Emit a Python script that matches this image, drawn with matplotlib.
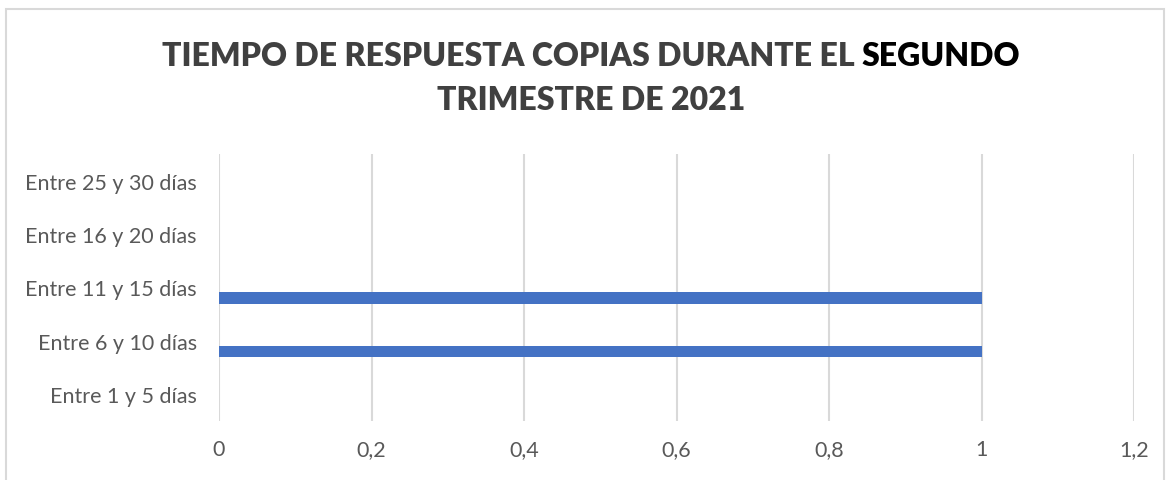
import matplotlib
matplotlib.use("Agg")
import matplotlib.pyplot as plt
import numpy as np

categories = ["Entre 1 y 5 días", "Entre 6 y 10 días", "Entre 11 y 15 días",
              "Entre 16 y 20 días", "Entre 25 y 30 días"]
series1 = [0, 1, 1, 0, 0]
xticks = [0, 0.2, 0.4, 0.6, 0.8, 1.0, 1.2]
xtick_labels = ["0", "0,2", "0,4", "0,6", "0,8", "1", "1,2"]
title_line1_a = "TIEMPO DE RESPUESTA COPIAS DURANTE EL "
title_line1_b = "SEGUNDO"
title_line2 = "TRIMESTRE DE 2021"

FONT = "Lato"
W, H = 1171, 481
fig = plt.figure(figsize=(W / 100, H / 100), dpi=100)
fig.patch.set_facecolor("white")

# chart border
border = plt.Rectangle((6 / W, -0.01), (1164 - 6) / W, (H - 10) / H + 0.01,
                       transform=fig.transFigure, fill=False,
                       edgecolor="#D9D9D9", linewidth=1.5)
fig.add_artist(border)

left, right = 219 / W, 1134 / W
top, bottom = 1 - 155 / H, 1 - 422 / H
ax = fig.add_axes([left, bottom, right - left, top - bottom])

y = np.arange(len(categories))
ax.barh(y - 0.2, series1, height=0.22, color="#4472C4", linewidth=0, zorder=3)

ax.set_xlim(0, 1.2)
ax.set_ylim(-0.5, len(categories) - 0.5)
ax.set_xticks(xticks)
ax.set_xticklabels(xtick_labels)
ax.set_yticks(y)
ax.set_yticklabels(categories)
for s in ax.spines.values():
    s.set_visible(False)
ax.grid(axis="x", color="#D9D9D9", linewidth=1.5, zorder=0)
ax.tick_params(axis="both", length=0, colors="#595959", labelsize=15.5)
ax.tick_params(axis="x", pad=13)
ax.tick_params(axis="y", pad=16)
for lbl in ax.get_xticklabels() + ax.get_yticklabels():
    lbl.set_fontfamily(FONT)

# title with mixed colors
fig.canvas.draw()
r = fig.canvas.get_renderer()
tprops = dict(fontsize=23, fontweight="heavy", fontfamily=FONT)
ta = fig.text(0, 0, title_line1_a, color="#404040", **tprops)
tb = fig.text(0, 0, title_line1_b, color="#000000", **tprops)
wa = ta.get_window_extent(r).width
wb = tb.get_window_extent(r).width
cx = 591
x0 = cx - (wa + wb) / 2
y1 = 1 - 56 / H
ta.set_position((x0 / W, y1))
ta.set_va("center")
tb.set_position(((x0 + wa) / W, y1))
tb.set_va("center")
fig.text(cx / W, 1 - 101 / H, title_line2, color="#404040", ha="center",
         va="center", **tprops)

fig.savefig("out.png", dpi=100, facecolor="white")
